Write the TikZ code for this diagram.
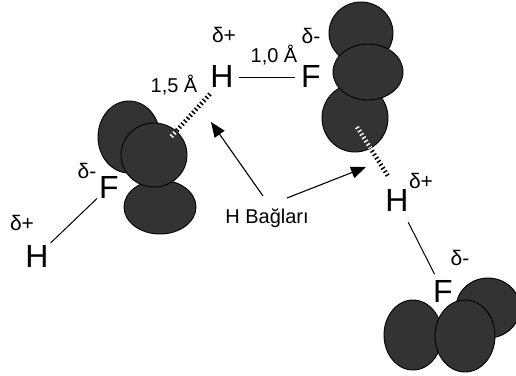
\documentclass[tikz,border=0pt]{standalone}
\usepackage{fontspec}
\setmainfont{Liberation Sans}
\usetikzlibrary{arrows.meta,calc}
\definecolor{lobe}{RGB}{51,51,51}
\tikzset{
  atom/.style={font=\fontsize{32}{34}\selectfont, inner sep=2pt, anchor=base},
  charge/.style={font=\fontsize{21}{22}\selectfont, inner sep=0pt, anchor=base},
  dist/.style={font=\fontsize{20}{22}\selectfont, inner sep=0pt, anchor=base},
  lobeshape/.style={fill=lobe, draw=black, line width=0.9pt},
  bond/.style={line width=1pt},
  hbond/.style={line width=4.5pt, dash pattern=on 1.5pt off 2.5pt},
  pointer/.style={line width=1.1pt, -{Triangle[length=15pt,width=12pt]}}
}
\begin{document}
\begin{tikzpicture}[x=1pt,y=-1pt]
\useasboundingbox (0,0) rectangle (516,375);

% lone-pair lobes of the left fluorine
\fill[lobeshape] (129,137) ellipse [x radius=31, y radius=36];
\fill[lobeshape] (160,207) ellipse [x radius=36, y radius=27];
\fill[lobeshape] (154,155) ellipse [x radius=33, y radius=32];

% lobes of the upper right fluorine
\fill[lobeshape] (361,33) ellipse [x radius=32, y radius=31];
\fill[lobeshape] (355,118) ellipse [x radius=33, y radius=34];
\fill[lobeshape] (368,72) ellipse [x radius=35, y radius=28];

% lobes of the lower right fluorine
\fill[lobeshape] (488,308) ellipse [x radius=32, y radius=30];
\fill[lobeshape] (413,335) ellipse [x radius=29, y radius=35];
\fill[lobeshape] (465,336) ellipse [x radius=30, y radius=36];

% atoms
\node[atom] (Htop) at (222,87) {H};
\node[atom] (Ftop) at (311,87) {F};
\node[atom] (Fleft) at (109,198) {F};
\node[atom] (Hleft) at (37,267) {H};
\node[atom] (Hright) at (397,211) {H};
\node[atom] (Fbot) at (443,302) {F};

% partial charges
\node[charge] (qHtop) at (224,42) {δ+};
\node[charge] (qFtop) at (311,43) {δ-};
\node[charge] (qFleft) at (87,178) {δ-};
\node[charge] (qHleft) at (22,230) {δ+};
\node[charge] (qHright) at (421,188) {δ+};
\node[charge] (qFbot) at (460,265) {δ-};

% bond lengths and caption
\node[dist] (d10) at (274,62) {1,0 Å};
\node[dist] (d15) at (174,92) {1,5 Å};
\node[dist] (lbl) at (267,223) {H Bağları};

% covalent bonds
\draw[bond] ($(Htop.east)+(3,2)$) -- ($(Ftop.west)+(-4,2)$);
\draw[bond] (Fleft) -- (Hleft);
\draw[bond, shorten <=10pt, shorten >=4pt] (Hright) -- (Fbot);

% hydrogen bonds into the lone pairs
\coordinate (hb1a) at (210,94);
\coordinate (hb1b) at (170,138);
\coordinate (hb2a) at (357,127);
\coordinate (hb2b) at (388,176);
\draw[hbond] (hb1a) -- (hb1b);
\draw[hbond] (hb2a) -- (hb2b);
\begin{scope}
  \clip (154,155) ellipse [x radius=33, y radius=32];
  \draw[hbond, white] (hb1a) -- (hb1b);
\end{scope}
\begin{scope}
  \clip (355,118) ellipse [x radius=33, y radius=34];
  \draw[hbond, white] (hb2a) -- (hb2b);
\end{scope}

% pointers from the caption
\coordinate (p1s) at (263,196);
\coordinate (p1e) at (211,122);
\coordinate (p2s) at (287,198);
\coordinate (p2e) at (366,167);
\draw[pointer] (p1s) -- (p1e);
\draw[pointer] (p2s) -- (p2e);
\end{tikzpicture}
\end{document}
